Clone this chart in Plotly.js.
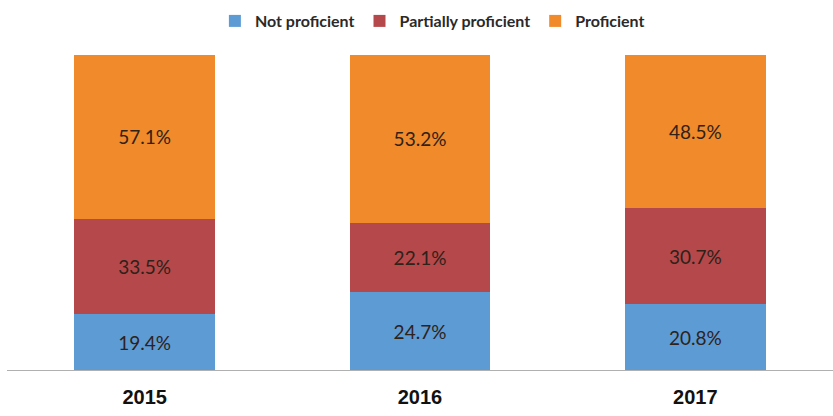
<!DOCTYPE html>
<html>
<head>
<meta charset="utf-8">
<script src="https://cdn.plot.ly/plotly-3.0.1.min.js"></script>
<style>html,body{margin:0;padding:0;background:#fff;}#chart{width:833px;height:416px;}</style>
</head>
<body>
<div id="chart"></div>
<script>
const years = ['2015', '2016', '2017'];
const notProficient = [19.4, 24.7, 20.8];
const partiallyProficient = [33.5, 22.1, 30.7];
const proficient = [57.1, 53.2, 48.5];
const seriesNames = ['Not proficient', 'Partially proficient', 'Proficient'];
const colors = ['#5d9bd5', '#b5484a', '#f08a2a'];

const seriesValues = [notProficient, partiallyProficient, proficient];
const traces = seriesValues.map((vals, i) => ({
  type: 'bar',
  name: seriesNames[i],
  x: years,
  y: vals,
  text: vals.map(v => v.toFixed(1) + '%'),
  texttemplate: '%{text}',
  textposition: 'inside',
  insidetextanchor: 'middle',
  textangle: 0,
  constraintext: 'none',
  textfont: {family: 'Lato, "Open Sans", sans-serif', size: 19, color: '#2e2219'},
  marker: {color: colors[i], line: {width: 0}},
  hoverinfo: 'none'
}));

const layout = {
  width: 833,
  height: 416,
  barmode: 'stack',
  barnorm: 'percent',
  bargap: 0.49,
  margin: {l: 7, r: 0, t: 55, b: 46},
  paper_bgcolor: '#ffffff',
  plot_bgcolor: '#ffffff',
  showlegend: true,
  legend: {
    orientation: 'h',
    traceorder: 'normal',
    x: 0.515, xanchor: 'center',
    yref: 'container', y: 1 - 21/416, yanchor: 'middle',
    font: {family: 'Lato, "Open Sans", sans-serif', size: 16, color: '#2a2a2a', weight: 'bold'},
    itemwidth: 30,
    tracegroupgap: 0
  },
  xaxis: {
    type: 'category',
    showline: true,
    linecolor: '#b0b0b0',
    linewidth: 1,
    showgrid: false,
    ticks: '',
    tickfont: {family: 'Arial, "Liberation Sans", sans-serif', size: 20, color: '#111', weight: 'bold'},
    ticklabelstandoff: 9
  },
  yaxis: {
    range: [0, 100],
    visible: false,
    showgrid: false,
    zeroline: false
  },
  font: {family: 'Lato, sans-serif'}
};

Plotly.newPlot('chart', traces, layout, {displayModeBar: false, staticPlot: true});
</script>
</body>
</html>
